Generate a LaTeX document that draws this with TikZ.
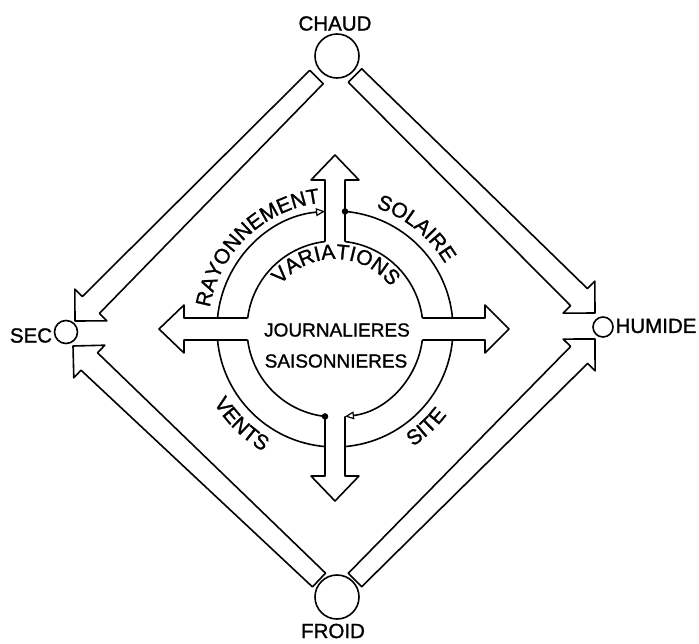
\documentclass[tikz,border=0pt]{standalone}
\usepackage{fontspec}
\setmainfont[FakeBold=1.2]{Liberation Sans}
\usetikzlibrary{calc,decorations.text,arrows.meta}
\newcommand\lblfont{\fontsize{20.5}{24}\selectfont}
\newcommand\ringfont{\fontsize{21}{24}\selectfont}
\newcommand\midfont{\fontsize{19}{23}\selectfont}
% big hollow arrow: #1 tail coordinate, #2 tip coordinate, #3 prefix
\newcommand\bigarrow[3]{%
  \coordinate (#3-h) at ($(#2)!22.5pt!(#1)$);
  \draw[ln] ($(#1)!9.5pt!90:(#2)$) -- ($(#3-h)!12pt!90:(#2)$)
    -- ($(#3-h)!22.5pt!90:(#2)$) -- (#2)
    -- ($(#3-h)!22.5pt!-90:(#2)$) -- ($(#3-h)!12pt!-90:(#2)$)
    -- ($(#1)!9.5pt!-90:(#2)$) -- cycle;}
\begin{document}
\begin{tikzpicture}[x=1pt,y=1pt,
  ln/.style={line width=1.6pt, line join=round},
  lbl/.style={font=\lblfont, inner sep=0pt},
  pole/.style={circle, draw, line width=1.6pt, inner sep=0pt},
  dotnode/.style={circle, fill, inner sep=0pt, minimum size=6.5pt},
  opentip/.style={-{Triangle[open,length=9pt,width=8pt,line width=1.2pt]}}]
\useasboundingbox (0,0) rectangle (699,-643);

% poles
\node[pole, minimum size=44pt] (chaud) at (337,-56) {};
\node[pole, minimum size=44pt] (froid) at (337,-597) {};
\node[pole, minimum size=23pt] (sec) at (66,-332) {};
\node[pole, minimum size=20pt] (humide) at (603,-327) {};
\node[lbl] (chaudlbl) at (335,-23.5) {CHAUD};
\node[lbl] (froidlbl) at (333,-631) {FROID};
\node[lbl] (seclbl) at (31,-335.5) {SEC};
\node[lbl] (humidelbl) at (656,-326) {HUMIDE};

% big diamond arrows
\coordinate (ul-t) at (316.5,-77);  \coordinate (ul-p) at (75,-321);
\coordinate (ur-t) at (355,-75.5);  \coordinate (ur-p) at (595,-313);
\coordinate (ll-t) at (319,-580);   \coordinate (ll-p) at (73,-346);
\coordinate (lr-t) at (355,-580);   \coordinate (lr-p) at (595,-339);
\bigarrow{ul-t}{ul-p}{ul}
\bigarrow{ur-t}{ur-p}{ur}
\bigarrow{ll-t}{ll-p}{ll}
\bigarrow{lr-t}{lr-p}{lr}

% central cross
\coordinate (C) at (335,-329);
\pgfmathsetmacro\ri{88}
\pgfmathsetmacro\ro{118}
\pgfmathsetmacro\ai{asin(11/\ri)}
\pgfmathsetmacro\bi{asin(10/\ri)}
\pgfmathsetmacro\ao{asin(11/\ro)}
\pgfmathsetmacro\bo{asin(10/\ro)}

\draw[ln] ($(C)+(90+\bi:\ri pt)$) -- ($(C)+(-10,149)$) -- ($(C)+(-24,149)$)
  -- ($(C)+(0,174)$) -- ($(C)+(24,149)$) -- ($(C)+(10,149)$) -- ($(C)+(90-\bi:\ri pt)$);
\draw[ln] ($(C)+(270-\bi:\ri pt)$) -- ($(C)+(-10,-147)$) -- ($(C)+(-24,-147)$)
  -- ($(C)+(0,-172)$) -- ($(C)+(24,-147)$) -- ($(C)+(10,-147)$) -- ($(C)+(270+\bi:\ri pt)$);
\draw[ln] ($(C)+(180-\ai:\ri pt)$) -- ($(C)+(-151,11)$) -- ($(C)+(-151,24)$)
  -- ($(C)+(-176,0)$) -- ($(C)+(-151,-24)$) -- ($(C)+(-151,-11)$) -- ($(C)+(180+\ai:\ri pt)$);
\draw[ln] ($(C)+(\ai:\ri pt)$) -- ($(C)+(150,11)$) -- ($(C)+(150,24)$)
  -- ($(C)+(174,0)$) -- ($(C)+(150,-24)$) -- ($(C)+(150,-11)$) -- ($(C)+(-\ai:\ri pt)$);

% inner ring arcs
\draw[ln] ($(C)+(\ai:\ri pt)$) arc[start angle=\ai, end angle=90-\bi, radius=\ri pt];
\draw[ln] ($(C)+(90+\bi:\ri pt)$) arc[start angle=90+\bi, end angle=180-\ai, radius=\ri pt];
\draw[ln] ($(C)+(180+\ai:\ri pt)$) arc[start angle=180+\ai, end angle=270-\bi, radius=\ri pt];
\draw[ln,opentip] ($(C)+(360-\ai:\ri pt)$) arc[start angle=360-\ai, end angle=270+\bi, radius=\ri pt];
% outer ring arcs
\draw[ln] ($(C)+(\ao:\ro pt)$) arc[start angle=\ao, end angle=90-\bo, radius=\ro pt];
\draw[ln,opentip] ($(C)+(180-\ao:\ro pt)$) arc[start angle=180-\ao, end angle=90+\bo, radius=\ro pt];
\draw[ln] ($(C)+(180+\ao:\ro pt)$) arc[start angle=180+\ao, end angle=270-\bo, radius=\ro pt];
\draw[ln] ($(C)+(270+\bo:\ro pt)$) arc[start angle=270+\bo, end angle=360-\ao, radius=\ro pt];
\node[dotnode] (dottop) at ($(C)+(90-\bo:\ro pt)$) {};
\node[dotnode] (dotbot) at ($(C)+(270-\bi:\ri pt)$) {};

% curved labels
\path[decorate,decoration={text along path,text align=center,text={|\ringfont|RAYONNEMENT}}]
  ($(C)+(200:127pt)$) arc[start angle=200,end angle=67,radius=127pt];
\path[decorate,decoration={text along path,text align=center,text={|\ringfont|SOLAIRE}}]
  ($(C)+(120:128pt)$) arc[start angle=120,end angle=-18,radius=128pt];
\path[decorate,decoration={text along path,text align=center,text={|\ringfont|VARIATIONS}}]
  ($(C)+(170:70pt)$) arc[start angle=170,end angle=8,radius=70pt];
\path[decorate,decoration={text along path,text align=center,text={|\ringfont|VENTS}}]
  ($(C)+(170:142pt)$) arc[start angle=170,end angle=281,radius=142pt];
\path[decorate,decoration={text along path,text align=center,text={|\ringfont|SITE}}]
  ($(C)+(260:141pt)$) arc[start angle=260,end angle=366,radius=141pt];

\node[lbl,font=\midfont] (journ) at (337,-330) {JOURNALIERES};
\node[lbl,font=\midfont] (saison) at (336,-361) {SAISONNIERES};
\end{tikzpicture}
\end{document}
